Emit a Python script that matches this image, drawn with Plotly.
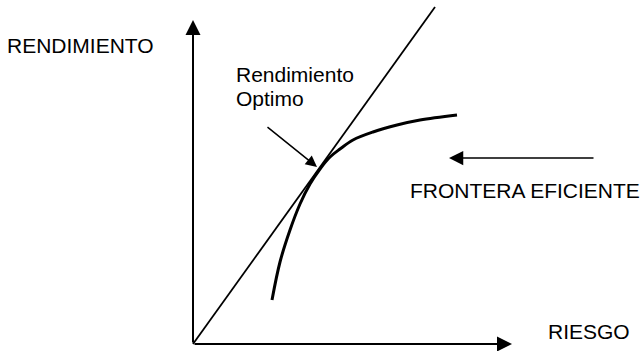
import plotly.graph_objects as go

# Efficient frontier sketch: risk (x) vs return (y), arbitrary units
frontier_risk = [79, 87, 97, 107, 117, 127, 137, 147, 160, 180, 204, 227, 264]
frontier_return = [44, 82, 114, 140, 160, 175, 187, 195, 204, 212, 219, 224, 229]

# capital market line from the origin, tangent to the frontier
line_risk = [0, 242]
line_return = [0, 337]

# axis arrows: (tail, tip)
y_axis_arrow = [(0, 0), (0, 324)]
x_axis_arrow = [(0, 0), (319, 0)]

# pointer arrows: (tail, tip)
optimo_arrow = [(73, 218), (124, 177)]
frontera_arrow = [(402, 186), (256, 186)]

# labels: (text, x, y)
labels = [
    ("RENDIMIENTO", -188, 299),
    ("Rendimiento", 41, 270),
    ("Optimo", 41, 246),
    ("FRONTERA EFICIENTE", 215, 154),
    ("RIESGO", 353, 13),
]

FONT = dict(family="Liberation Sans, Arial, sans-serif", size=21, color="black")

fig = go.Figure()
fig.add_trace(go.Scatter(x=line_risk, y=line_return, mode="lines",
                         line=dict(color="black", width=1.8), hoverinfo="skip"))
fig.add_trace(go.Scatter(x=frontier_risk, y=frontier_return, mode="lines",
                         line=dict(color="black", width=3, shape="spline"), hoverinfo="skip"))


def arrow(tail, tip, width, size):
    fig.add_annotation(x=tip[0], y=tip[1], ax=tail[0], ay=tail[1],
                       xref="x", yref="y", axref="x", ayref="y", text="",
                       showarrow=True, arrowhead=2, arrowwidth=width,
                       arrowsize=size, arrowcolor="black")


arrow(*y_axis_arrow, 2, 1.5)
arrow(*x_axis_arrow, 2, 1.5)
arrow(*optimo_arrow, 1.5, 1.5)
arrow(*frontera_arrow, 1.5, 1.9)

for text, x, y in labels:
    fig.add_annotation(x=x, y=y, xref="x", yref="y", text=text, showarrow=False,
                       xanchor="left", yanchor="middle", font=FONT)

fig.update_layout(
    width=644, height=351, margin=dict(l=0, r=0, t=0, b=0),
    paper_bgcolor="white", plot_bgcolor="white", showlegend=False,
    xaxis=dict(range=[-193, 451], visible=False, fixedrange=True),
    yaxis=dict(range=[-7, 344], visible=False, fixedrange=True),
)
# drop the browser's default 8px body margin so the figure sits at the page corner
fig.write_html("out.html", config={"displayModeBar": False},
               post_script="document.body.style.margin = '0';")
